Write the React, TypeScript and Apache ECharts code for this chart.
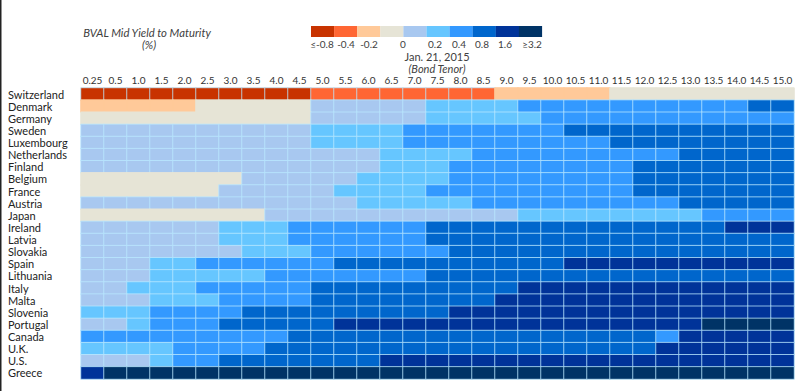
import React, { useEffect, useRef } from "react";
import * as echarts from "echarts";

const tenors = ["0.25","0.5","1.0","1.5","2.0","2.5","3.0","3.5","4.0","4.5","5.0","5.5","6.0","6.5","7.0","7.5","8.0","8.5","9.0","9.5","10.0","10.5","11.0","11.5","12.0","12.5","13.0","13.5","14.0","14.5","15.0"];

const countries = ["Switzerland","Denmark","Germany","Sweden","Luxembourg","Netherlands","Finland","Belgium","France","Austria","Japan","Ireland","Latvia","Slovakia","Spain","Lithuania","Italy","Malta","Slovenia","Portugal","Canada","U.K.","U.S.","Greece"];

const bucketLabels = ["≤-0.8","-0.4","-0.2","0","0.2","0.4","0.8","1.6","≥3.2"];
const bucketColors = ["#C83300","#FF6633","#FFC999","#E6E4D6","#A8C8F0","#66C6FF","#3399FF","#0066CC","#003399","#003366"];

// Yield bucket per tenor, as runs of [bucket index, number of tenors]
const switzerland = [[0,10],[1,8],[2,5],[3,8]];
const denmark = [[2,5],[3,5],[4,5],[5,4],[6,10],[7,2]];
const germany = [[3,10],[4,5],[5,5],[6,11]];
const sweden = [[4,10],[5,4],[6,7],[7,10]];
const luxembourg = [[4,10],[5,4],[6,9],[7,8]];
const netherlands = [[4,13],[5,4],[6,9],[7,5]];
const finland = [[4,13],[5,3],[6,8],[7,7]];
const belgium = [[3,7],[4,5],[5,4],[6,8],[7,7]];
const france = [[3,6],[4,5],[5,4],[6,9],[7,7]];
const austria = [[4,12],[5,5],[6,9],[7,5]];
const japan = [[3,8],[4,11],[5,8],[6,4]];
const ireland = [[4,6],[5,3],[6,6],[7,13],[8,3]];
const latvia = [[4,6],[5,3],[6,6],[7,16]];
const slovakia = [[4,7],[5,3],[6,6],[7,15]];
const spain = [[4,3],[5,2],[6,6],[7,10],[8,10]];
const lithuania = [[4,3],[5,5],[6,7],[7,16]];
const italy = [[4,2],[5,3],[6,5],[7,9],[8,12]];
const malta = [[4,3],[5,3],[6,4],[7,8],[8,13]];
const slovenia = [[5,3],[6,4],[7,9],[8,15]];
const portugal = [[4,2],[5,1],[6,3],[7,5],[8,16],[9,4]];
const canada = [[6,9],[7,16],[6,1],[8,5]];
const uk = [[5,4],[6,4],[7,17],[8,6]];
const us = [[4,3],[5,1],[6,2],[7,7],[8,18]];
const greece = [[8,1],[9,30]];

const rowRuns = [switzerland, denmark, germany, sweden, luxembourg, netherlands, finland, belgium, france, austria, japan, ireland, latvia, slovakia, spain, lithuania, italy, malta, slovenia, portugal, canada, uk, us, greece];

const legendLabelX = [322, 346, 369, 403, 435, 459, 482, 505, 532];

const FONT = "Lato, 'Open Sans', sans-serif";

export default function App() {
  const ref = useRef<HTMLDivElement>(null);
  useEffect(() => {
    if (!ref.current) return;
    const chart = echarts.init(ref.current, null, { renderer: "svg" });
    const data: any[] = [];
    rowRuns.forEach((runs, y) => {
      let x = 0;
      runs.forEach(([b, n]) => {
        for (let k = 0; k < n; k++) {
          const noBorder = b === 2 || b === 3;
          data.push({
            value: [x, y, b],
            itemStyle: {
              borderColor: noBorder ? bucketColors[b] : "rgba(185,232,255,0.75)",
              borderWidth: 1,
            },
          });
          x++;
        }
      });
    });

    const txt = (x: number, y: number, text: string, size: number, italic: boolean) => ({
      type: "text",
      x,
      y,
      style: {
        text,
        fontStyle: italic ? "italic" : "normal",
        fontSize: size,
        lineHeight: 11,
        fontFamily: FONT,
        fill: "#404040",
        align: "center",
        verticalAlign: "middle",
      },
    });

    const graphics: any[] = [
      { type: "rect", shape: { x: 0, y: 0, width: 1.5, height: 391 }, style: { fill: "#222" }, silent: true },
      txt(147, 32, "BVAL Mid Yield to Maturity", 11.3, true),
      txt(149, 44, "(%)", 11.3, true),
      txt(437, 56, "Jan. 21, 2015", 11, false),
      txt(437, 68, "(Bond Tenor)", 11, true),
    ];
    bucketColors.forEach((c, i) => {
      graphics.push({ type: "rect", shape: { x: 311 + i * 23.1, y: 26, width: 23.2, height: 11 }, style: { fill: c }, silent: true });
    });
    bucketLabels.forEach((t, i) => {
      graphics.push(txt(legendLabelX[i], 44, t, 10, false));
    });

    chart.setOption({
      animation: false,
      backgroundColor: "#ffffff",
      grid: { left: 81, top: 88, width: 713, height: 291, containLabel: false },
      xAxis: {
        type: "category",
        data: tenors,
        position: "top",
        axisLine: { show: false },
        axisTick: { show: false },
        splitLine: { show: false },
        axisLabel: { interval: 0, fontSize: 10, color: "#333", margin: 3, fontFamily: FONT },
      },
      yAxis: {
        type: "category",
        data: countries,
        inverse: true,
        axisLine: { show: false },
        axisTick: { show: false },
        splitLine: { show: false },
        axisLabel: { interval: 0, align: "left", margin: 73, fontSize: 11, lineHeight: 11, color: "#222", fontFamily: FONT },
      },
      visualMap: {
        type: "piecewise",
        show: false,
        dimension: 2,
        pieces: bucketColors.map((c, i) => ({ value: i, color: c })),
      },
      graphic: graphics,
      series: [
        {
          type: "heatmap",
          data,
          emphasis: { disabled: true },
          label: { show: false },
        },
      ],
    });
    return () => chart.dispose();
  }, []);
  return <div ref={ref} style={{ position: "fixed", left: 0, top: 0, width: 800, height: 391, background: "#fff" }} />;
}
